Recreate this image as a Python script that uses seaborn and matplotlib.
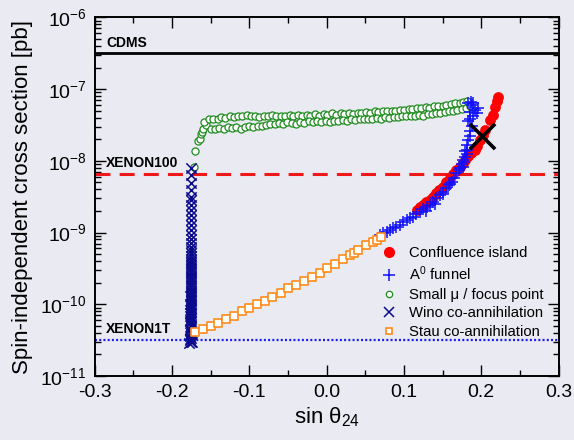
import numpy as np
import pandas as pd
import matplotlib
matplotlib.use("Agg")
import matplotlib.pyplot as plt
from matplotlib.ticker import LogLocator, MultipleLocator, NullFormatter, FixedLocator
from matplotlib.lines import Line2D
import seaborn as sns

# ---- data: sin(theta_24) and log10 of the spin-independent cross section [pb] ----
confluence_sin = [0.117, 0.121, 0.125, 0.129, 0.134, 0.138, 0.142, 0.146, 0.151, 0.155,
                  0.160, 0.164, 0.168, 0.172, 0.176, 0.179, 0.183, 0.187, 0.192, 0.195,
                  0.198, 0.202, 0.205, 0.211, 0.215, 0.218, 0.220, 0.222]
confluence_log = [-8.69, -8.65, -8.62, -8.58, -8.55, -8.50, -8.45, -8.41, -8.36, -8.30,
                  -8.24, -8.19, -8.13, -8.08, -8.03, -7.99, -7.93, -7.89, -7.85, -7.79,
                  -7.71, -7.64, -7.57, -7.43, -7.36, -7.25, -7.17, -7.11]

funnel_sin = [0.069, 0.073, 0.078, 0.082, 0.086, 0.090, 0.095, 0.099, 0.104, 0.108,
              0.112, 0.116, 0.121, 0.125, 0.130, 0.134, 0.138, 0.142, 0.147, 0.151,
              0.155, 0.158, 0.162, 0.165, 0.168, 0.171, 0.173, 0.175, 0.177, 0.179,
              0.181, 0.182, 0.179, 0.181, 0.183, 0.186, 0.188, 0.185, 0.183, 0.186,
              0.190, 0.194, 0.196, 0.192, 0.188, 0.185, 0.183, 0.187, 0.190, 0.178,
              0.176, 0.160, 0.150, 0.140, 0.128]
funnel_log = [-9.04, -9.01, -8.99, -8.96, -8.94, -8.92, -8.90, -8.86, -8.83, -8.80,
              -8.78, -8.74, -8.71, -8.67, -8.64, -8.61, -8.57, -8.52, -8.48, -8.43,
              -8.38, -8.34, -8.29, -8.24, -8.17, -8.13, -8.10, -8.04, -7.99, -7.94,
              -7.90, -7.85, -7.87, -7.78, -7.71, -7.66, -7.52, -7.58, -7.45, -7.41,
              -7.37, -7.34, -7.27, -7.29, -7.22, -7.32, -7.20, -7.18, -7.20, -8.02,
              -8.08, -8.32, -8.46, -8.60, -8.70]

focus_sin = [-0.172, -0.170, -0.166, -0.164, -0.163, -0.161, -0.160, -0.156,
             -0.158, -0.152, -0.147, -0.141, -0.136, -0.131, -0.125, -0.120, -0.114, -0.109,
             -0.103, -0.098, -0.092, -0.087, -0.081, -0.076, -0.070, -0.065, -0.059, -0.054,
             -0.048, -0.043, -0.037, -0.032, -0.026, -0.021, -0.015, -0.010, -0.004, 0.001,
             0.007, 0.012, 0.018, 0.023, 0.029, 0.034, 0.040, 0.045, 0.051, 0.056,
             0.062, 0.067, 0.073, 0.078, 0.084, 0.089, 0.095, 0.100, 0.106, 0.111,
             0.117, 0.122, 0.128, 0.133, 0.139, 0.144, 0.150, 0.155, 0.161, 0.166,
             0.172, 0.177, 0.182,
             -0.150, -0.144, -0.139, -0.133, -0.128, -0.122, -0.117, -0.111, -0.106, -0.100,
             -0.095, -0.089, -0.084, -0.078, -0.073, -0.067, -0.062, -0.056, -0.051, -0.045,
             -0.040, -0.034, -0.029, -0.023, -0.018, -0.012, -0.007, -0.001, 0.004, 0.010,
             0.015, 0.021, 0.026, 0.032, 0.037, 0.043, 0.048, 0.054, 0.059, 0.065,
             0.070, 0.076, 0.081, 0.087, 0.092, 0.098, 0.103, 0.109, 0.114, 0.120,
             0.125, 0.131, 0.136, 0.142, 0.147, 0.153, 0.158, 0.164, 0.169, 0.175,
             0.180, 0.185]
focus_log = [-8.09, -7.86, -7.73, -7.69, -7.62, -7.60, -7.56, -7.50,
             -7.46, -7.42, -7.41, -7.42, -7.39, -7.40, -7.38, -7.39, -7.37, -7.38,
             -7.36, -7.38, -7.37, -7.39, -7.37, -7.38, -7.36, -7.38, -7.37, -7.38,
             -7.36, -7.37, -7.36, -7.38, -7.36, -7.37, -7.35, -7.37, -7.35, -7.36,
             -7.34, -7.36, -7.34, -7.35, -7.33, -7.35, -7.33, -7.34, -7.32, -7.33,
             -7.31, -7.32, -7.30, -7.31, -7.30, -7.30, -7.29, -7.29, -7.28, -7.28,
             -7.27, -7.27, -7.25, -7.26, -7.24, -7.24, -7.23, -7.22, -7.21, -7.20,
             -7.19, -7.18, -7.17,
             -7.55, -7.56, -7.54, -7.55, -7.53, -7.54, -7.53, -7.55, -7.53, -7.52,
             -7.53, -7.51, -7.52, -7.50, -7.48, -7.49, -7.47, -7.48, -7.46, -7.47,
             -7.48, -7.46, -7.47, -7.45, -7.46, -7.44, -7.46, -7.45, -7.46, -7.44,
             -7.45, -7.43, -7.44, -7.42, -7.43, -7.41, -7.42, -7.41, -7.41, -7.40,
             -7.41, -7.39, -7.40, -7.39, -7.39, -7.38, -7.38, -7.37, -7.38, -7.36,
             -7.37, -7.35, -7.35, -7.34, -7.33, -7.32, -7.31, -7.30, -7.29, -7.28,
             -7.26, -7.24]

wino_log = [-8.10, -8.20, -8.31, -8.40, -8.50, -8.55, -8.62, -8.69, -8.76, -8.83,
            -8.90, -8.97, -9.04, -9.09, -9.15, -9.20, -9.24, -9.29, -9.33, -9.37,
            -9.40, -9.43, -9.45, -9.48, -9.51, -9.54, -9.57, -9.60, -9.63, -9.66,
            -9.69, -9.72, -9.75, -9.78, -9.81, -9.84, -9.87, -9.90, -9.93, -9.96,
            -9.99, -10.02, -10.05, -10.08, -10.11, -10.14, -10.17, -10.20, -10.23, -10.26,
            -10.29, -10.32, -10.35, -10.38, -10.41, -10.44, -10.47, -10.50, -10.53, -10.54,
            -9.88, -9.94, -10.00, -10.06, -10.12, -10.18, -10.24, -10.30, -10.36, -10.42,
            -10.48, -10.52]
wino_sin = [-0.175, -0.176, -0.175, -0.176, -0.176, -0.175, -0.176, -0.176, -0.175, -0.176,
            -0.176, -0.176, -0.175, -0.176, -0.176, -0.175, -0.176, -0.176, -0.175, -0.176,
            -0.176, -0.175, -0.176, -0.176, -0.175, -0.176, -0.176, -0.175, -0.176, -0.176,
            -0.176, -0.175, -0.176, -0.176, -0.175, -0.176, -0.176, -0.175, -0.176, -0.176,
            -0.176, -0.175, -0.176, -0.177, -0.175, -0.176, -0.177, -0.175, -0.176, -0.177,
            -0.175, -0.176, -0.177, -0.175, -0.176, -0.177, -0.175, -0.177, -0.1745, -0.1775,
            -0.1768, -0.1752, -0.1768, -0.1752, -0.1768, -0.1752, -0.1768, -0.1752, -0.1768, -0.1752,
            -0.1768, -0.1752]

stau_sin = [-0.170, -0.160, -0.150, -0.140, -0.130, -0.120, -0.110, -0.100, -0.090, -0.080,
            -0.070, -0.059, -0.050, -0.040, -0.029, -0.019, -0.009, 0.001, 0.011, 0.021,
            0.030, 0.035, 0.041, 0.051, 0.060, 0.065, 0.070]
stau_log = [-10.39, -10.35, -10.30, -10.26, -10.21, -10.16, -10.10, -10.05, -10.00, -9.95,
            -9.90, -9.84, -9.78, -9.73, -9.67, -9.62, -9.56, -9.50, -9.44, -9.37,
            -9.31, -9.28, -9.24, -9.18, -9.13, -9.10, -9.06]

benchmark_sin = [0.2006]
benchmark_log = [-7.65]

# experimental limits [pb]
limit_names = ["CDMS", "XENON100", "XENON1T"]
limit_values = [3.15e-7, 6.6e-9, 3.13e-11]
limit_label_y = [3.9e-7, 8.3e-9, 4.0e-11]

series_labels = ["Confluence island", "A$^{0}$ funnel", "Small \u03bc / focus point",
                 "Wino co-annihilation", "Stau co-annihilation"]
x_ticks = [-0.3, -0.2, -0.1, 0.0, 0.1, 0.2, 0.3]
x_tick_labels = ["-0.3", "-0.2", "-0.1", "0.0", "0.1", "0.2", "0.3"]
y_ticks = [1e-11, 1e-10, 1e-9, 1e-8, 1e-7, 1e-6]


def frame(xs, logs):
    return pd.DataFrame({"s": xs, "sigma": 10.0 ** np.asarray(logs)})


sns.set_theme(style="dark")
bg = "#EAEAF2"
plt.rcParams.update({
    "font.family": ["Liberation Sans", "DejaVu Sans"],
    "mathtext.fontset": "custom",
    "mathtext.rm": "Liberation Sans",
    "mathtext.it": "Liberation Sans:italic",
    "mathtext.bf": "Liberation Sans:bold",
    "figure.facecolor": bg,
    "axes.facecolor": bg,
    "text.color": "black",
    "axes.labelcolor": "black",
    "xtick.color": "black",
    "ytick.color": "black",
})

fig = plt.figure(figsize=(5.74, 4.40), dpi=100)
ax = fig.add_axes([0.165, 0.1455, 0.808, 0.815])

red = "#FF0000"
blue = "#1010FF"
green = "#1E8C1E"
navy = "#0A0A8C"
orange = "#FF8C1A"

sns.scatterplot(data=frame(confluence_sin, confluence_log), x="s", y="sigma", ax=ax,
                marker="o", s=52, color=red, edgecolor=red, linewidth=0.5, zorder=3)
sns.scatterplot(data=frame(funnel_sin, funnel_log), x="s", y="sigma", ax=ax,
                marker="+", s=65, color=blue, linewidth=1.1, zorder=4)
sns.scatterplot(data=frame(focus_sin, focus_log), x="s", y="sigma", ax=ax,
                marker="o", s=26, facecolor="white", edgecolor=green, linewidth=0.9, zorder=3)
sns.scatterplot(data=frame(wino_sin, wino_log), x="s", y="sigma", ax=ax,
                marker="x", s=55, color=navy, linewidth=1.1, zorder=4)
sns.scatterplot(data=frame(stau_sin, stau_log), x="s", y="sigma", ax=ax,
                marker="s", s=27, facecolor="white", edgecolor=orange, linewidth=1.2, zorder=5)
sns.scatterplot(data=frame(benchmark_sin, benchmark_log), x="s", y="sigma", ax=ax,
                marker="x", s=330, color="black", linewidth=2.6, zorder=6)

# experimental limits
ax.axhline(limit_values[0], color="black", lw=2.0, zorder=2)
ax.axhline(limit_values[1], color="#F01818", lw=2.2, dashes=(4.9, 3.0), zorder=2)
ax.axhline(limit_values[2], color="#1A1AF0", lw=1.6, dashes=(0.9, 1.0), zorder=2)
for name, yv in zip(limit_names, limit_label_y):
    ax.text(-0.2855, yv, name, fontsize=10, fontweight="bold", color="black",
            va="baseline", ha="left")

ax.set_yscale("log")
ax.set_xlim(-0.3, 0.3)
ax.set_ylim(1e-11, 1e-6)

ax.xaxis.set_minor_locator(MultipleLocator(0.05))
ax.set_xticks(x_ticks)
ax.set_xticklabels(x_tick_labels)
ax.yaxis.set_major_locator(FixedLocator(y_ticks))
ax.yaxis.set_minor_locator(LogLocator(base=10, subs=np.arange(2, 10), numticks=20))
ax.yaxis.set_minor_formatter(NullFormatter())

for sp in ax.spines.values():
    sp.set_visible(True)
    sp.set_color("black")
    sp.set_linewidth(1.4)

ax.tick_params(which="both", direction="in", top=True, right=True, bottom=True, left=True,
               color="black", width=1.0)
ax.tick_params(which="major", length=8, labelsize=14, pad=6, labelcolor="black")
ax.tick_params(which="minor", length=4)
ax.grid(False)

ax.set_xlabel("sin \u03b8$_{24}$", fontsize=16, labelpad=3, color="black")
ax.set_ylabel("Spin-independent cross section [pb]", fontsize=16, labelpad=5, color="black")

handles = [
    Line2D([], [], ls="none", marker="o", ms=7.0, color=red, mec=red),
    Line2D([], [], ls="none", marker="+", ms=9.0, color=blue, mew=1.1),
    Line2D([], [], ls="none", marker="o", ms=4.6, mfc="white", mec=green, mew=0.9),
    Line2D([], [], ls="none", marker="x", ms=7.0, color=navy, mew=1.1),
    Line2D([], [], ls="none", marker="s", ms=5.0, mfc="white", mec=orange, mew=1.2),
]
leg = ax.legend(handles, series_labels, loc="upper left", bbox_to_anchor=(0.613, 0.37),
                frameon=False, fontsize=10.7, handlelength=1.0, handletextpad=0.8,
                labelspacing=0.3, borderpad=0.2, borderaxespad=0.0)
for t in leg.get_texts():
    t.set_color("black")

fig.savefig("out.png", dpi=100, facecolor=bg)
